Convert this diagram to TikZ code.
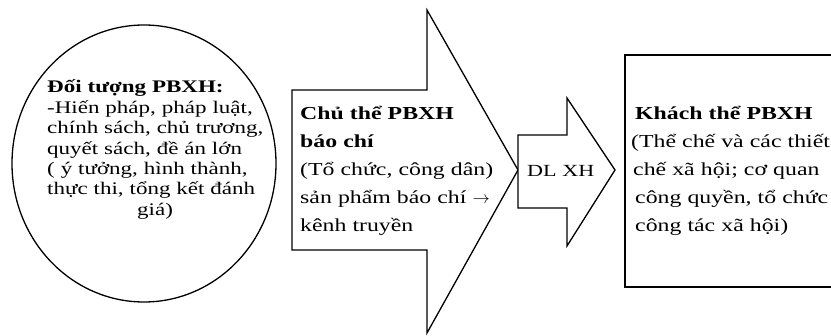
\documentclass[tikz,border=0pt]{standalone}
\usepackage{fontspec}
\setmainfont{Liberation Serif}[FakeStretch=1.3, BoldFeatures={FakeStretch=1.3}]
\usetikzlibrary{shapes.geometric}
\tikzset{
  outline/.style={draw=black, line width=1.3pt, fill=white, line join=miter},
  txt/.style={anchor=base west, inner sep=0pt, text width=230pt, align=left, text=black},
  tight/.style={font=\fontsize{17.7}{20.4}\selectfont},
  loose/.style={font=\fontsize{18.3}{27.8}\selectfont}
}
\begin{document}
\begin{tikzpicture}[x=1pt,y=-1pt]
\useasboundingbox (0,0) rectangle (831,336);
\clip (0,0) rectangle (831,336);
\fill[white] (0,0) rectangle (831,336);
% circle
\node[outline, ellipse, minimum width=264pt, minimum height=277pt, inner sep=0pt] (obj) at (144,163.5) {};
% big arrow
\draw[outline] (292,90) coordinate (bigA) -- (427,90) -- (427,10) -- (518,170) coordinate (bigTip) -- (427,333) -- (427,250) -- (292,250) -- cycle;
% small arrow
\draw[outline] (518,135) -- (567,135) -- (567,98) -- (615,170) coordinate (smallTip) -- (567,246) -- (567,208) -- (518,208) -- cycle;
% rectangle (right edge outside picture)
\draw[outline] (625,55) rectangle (845,287);
% texts
\node[txt, tight] (objtext) at (47,93) {\textbf{Đối tượng PBXH:}\\
-Hiến pháp, pháp luật,\\
chính sách, chủ trương,\\
quyết sách, đề án lớn\\
( ý tưởng, hình thành,\\
thực thi, tổng kết đánh\\
\hspace*{90pt}giá)};
\node[txt, loose] (subjtext) at (300,120) {\textbf{Chủ thể PBXH}\\
\textbf{báo chí}\\
(Tổ chức, công dân)\\
sản phẩm báo chí $\rightarrow$\\
kênh truyền};
\node[txt, font=\fontsize{17}{20}\selectfont] (dltext) at (527,177) {DL XH};
\node[txt, loose] (objtext2) at (631,120) {\hspace*{4pt}\textbf{Khách thể PBXH}\\
(Thể chế và các thiết\\
\hspace*{2pt}chế xã hội; cơ quan\\
\hspace*{4pt}công quyền, tổ chức\\
\hspace*{4pt}công tác xã hội)};
\end{tikzpicture}
\end{document}
